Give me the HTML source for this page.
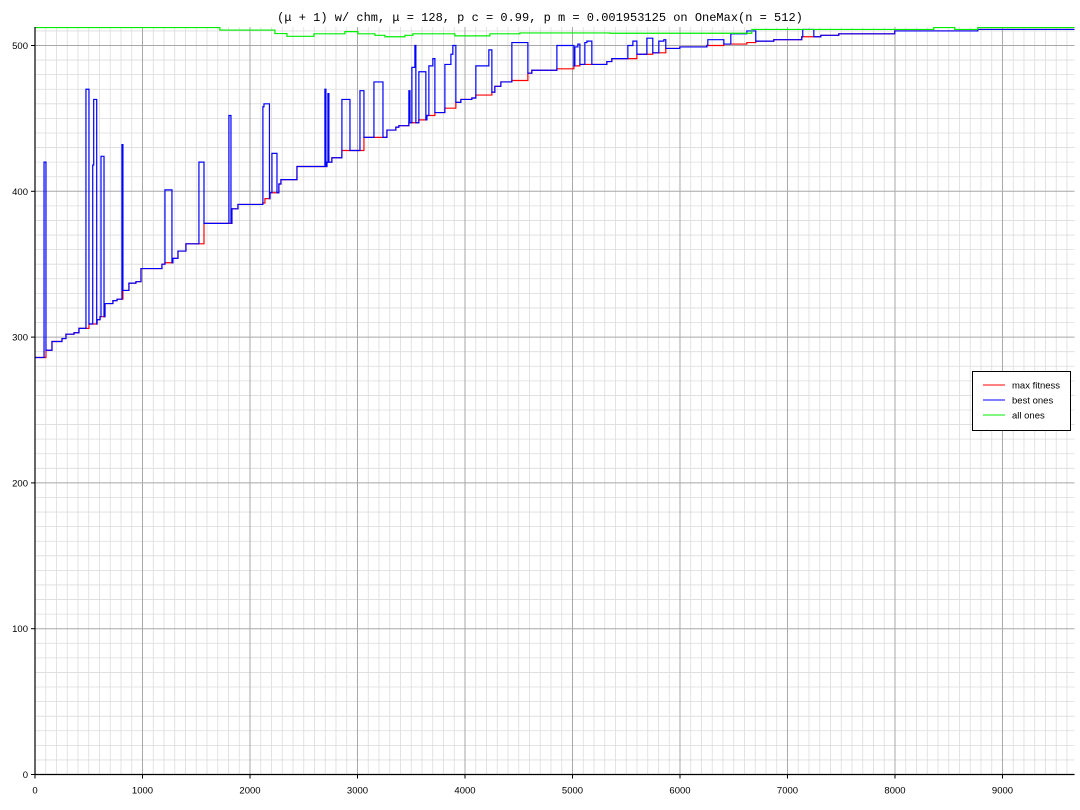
<!DOCTYPE html>
<html><head><meta charset="utf-8">
<style>
html,body{margin:0;padding:0;background:#fff;}
svg{display:block;font-family:"Liberation Sans",sans-serif;}
</style></head>
<body>
<svg id="chart" width="1080" height="810" viewBox="0 0 1080 810">
<text x="540" y="21" text-anchor="middle" font-family="Liberation Mono, monospace" font-size="12" fill="#000">(μ + 1) w/ chm, μ = 128, p c = 0.99, p m = 0.001953125 on OneMax(n = 512)</text>
<g id="grid"></g>
<g id="series"></g>
<g id="axes"></g>
<g>
<rect x="972.5" y="371.5" width="98" height="59" fill="#fff" stroke="#000"/>
<line x1="983" y1="385" x2="1005" y2="385" stroke="#f00"/>
<text x="1012" y="388.5" font-size="9.5">max fitness</text>
<line x1="983" y1="400" x2="1005" y2="400" stroke="#00f"/>
<text x="1012" y="403.5" font-size="9.5">best ones</text>
<line x1="983" y1="415" x2="1005" y2="415" stroke="#0e0"/>
<text x="1012" y="418.5" font-size="9.5">all ones</text>
</g>
</svg>
<script>
const xTicks=[0,1000,2000,3000,4000,5000,6000,7000,8000,9000];
const yTicks=[0,100,200,300,400,500];
const stairIters=[0,102,158,251,288,363,409,502,577,605,651,725,763,818,874,939,986,1181,1209,1283,1330,1404,1572,1832,1888,2120,2139,2186,2269,2288,2437,2716,2762,2855,3060,3274,3357,3385,3478,3571,3646,3720,3813,3915,3962,4064,4101,4250,4278,4334,4436,4585,4622,4855,5013,5069,5320,5366,5599,5747,5868,5999,6250,6408,6622,6705,6873,7133,7310,7477,7998,8770];
const stairVals=[286,291,297,299,302,303,306,309,312,314,323,325,326,332,337,338,347,350,351,354,359,364,378,388,391,392,395,399,405,408,417,420,423,428,437,442,444,445,447,449,452,454,457,461,463,464,466,468,472,475,476,481,483,484,486,487,489,491,494,495,498,499,500,501,502,503,504,506,507,508,510,511];
const spikeStart=[84,474,537,546,614,809,1209,1525,1804,2120,2130,2204,2697,2725,2855,3023,3153,3478,3506,3534,3571,3664,3701,3813,3869,3887,4101,4222,4436,4855,5022,5050,5115,5134,5515,5562,5692,5803,5850,6259,6473,6622,7142];
const spikeEnd=[102,502,546,574,642,818,1274,1572,1823,2130,2181,2251,2706,2734,2930,3060,3237,3488,3534,3543,3636,3701,3720,3869,3887,3915,4222,4250,4585,5013,5050,5069,5134,5180,5562,5599,5747,5850,5868,6408,6622,6705,7245];
const spikeVals=[420,470,418,463,424,432,401,420,452,458,460,426,470,467,463,469,475,469,485,500,482,486,491,487,494,500,486,497,502,500,499,501,502,503,500,503,505,503,504,504,508,510,511];
const greenIters=[0,1720,2232,2344,2595,2883,3004,3162,3255,3441,3515,3906,4232,4511,5348,6668,8361,8556,8770];
const greenVals=[512.3,510.6,508.2,506.3,508,509.5,508,507,506,507,508,506.6,508,508.6,508.4,511,512.3,511,512.3];
const XMAX=9670;
const NS="http://www.w3.org/2000/svg";
const L=35,R=1074.5,T=27,B=774.5;
function sx(v){return L+v*(R-L)/XMAX;}
function sy(v){return B-v*1.458;}
function mk(tag,attrs,parent){const e=document.createElementNS(NS,tag);for(const k in attrs)e.setAttribute(k,attrs[k]);parent.appendChild(e);return e;}
const grid=document.getElementById('grid'),axes=document.getElementById('axes'),series=document.getElementById('series');
mk('rect',{x:L,y:T,width:R-L,height:B-T,fill:'#fff'},grid);
for(let v=100;v<XMAX;v+=100){if(v%1000===0)continue;const g=mk('line',{x1:sx(v),x2:sx(v),y1:T,y2:B,stroke:'#dcdcdc','stroke-width':0.8},grid);

}
for(let v=10;v<=512;v+=10){if(v%100===0)continue;const g=mk('line',{x1:L,x2:R,y1:sy(v),y2:sy(v),stroke:'#dcdcdc','stroke-width':0.8},grid);

}
xTicks.forEach(v=>{if(v===0)return;const g=mk('line',{x1:sx(v),x2:sx(v),y1:T,y2:B,stroke:'#a8a8a8','stroke-width':1},grid);

});
yTicks.forEach(v=>{if(v===0)return;const g=mk('line',{x1:L,x2:R,y1:sy(v),y2:sy(v),stroke:'#a8a8a8','stroke-width':1},grid);

});
function stepPath(it,vals,end){let d='M'+sx(it[0])+' '+sy(vals[0]);for(let i=1;i<it.length;i++){d+=' H'+sx(it[i])+' V'+sy(vals[i]);}d+=' H'+sx(end);return d;}
function stairAt(t){let v=stairVals[0];for(let i=0;i<stairIters.length;i++){if(stairIters[i]<=t)v=stairVals[i];}return v;}
const red=mk('path',{d:stepPath(stairIters,stairVals,XMAX),fill:'none',stroke:'#f00','stroke-width':1.2},series);


let bps=new Set(stairIters);spikeStart.forEach(v=>bps.add(v));spikeEnd.forEach(v=>bps.add(v));
const pts=[...bps].sort((a,b)=>a-b);
const bIt=[],bV=[];
pts.forEach(t=>{let v=stairAt(t);for(let i=0;i<spikeStart.length;i++){if(t>=spikeStart[i]&&t<spikeEnd[i])v=Math.max(v,spikeVals[i]);}bIt.push(t);bV.push(v);});
const blue=mk('path',{d:stepPath(bIt,bV,XMAX),fill:'none',stroke:'#00f','stroke-width':1.2},series);


const green=mk('path',{d:stepPath(greenIters,greenVals,XMAX),fill:'none',stroke:'#0e0','stroke-width':1.2},series);


const xa=mk('line',{x1:L,x2:R,y1:B,y2:B,stroke:'#000','stroke-width':1.2},axes);


const ya=mk('line',{x1:L,x2:L,y1:T,y2:B,stroke:'#000','stroke-width':1.2},axes);


xTicks.forEach(v=>{const t=mk('line',{x1:sx(v),x2:sx(v),y1:B,y2:B+4,stroke:'#000'},axes);


const tx=mk('text',{x:sx(v),y:B+19,'text-anchor':'middle','font-size':9.5},axes);tx.textContent=v;

});
yTicks.forEach(v=>{const t=mk('line',{x1:L-4,x2:L,y1:sy(v),y2:sy(v),stroke:'#000'},axes);


const tx=mk('text',{x:L-7,y:sy(v)+3.5,'text-anchor':'end','font-size':9.5},axes);tx.textContent=v;

});
</script>
</body></html>
